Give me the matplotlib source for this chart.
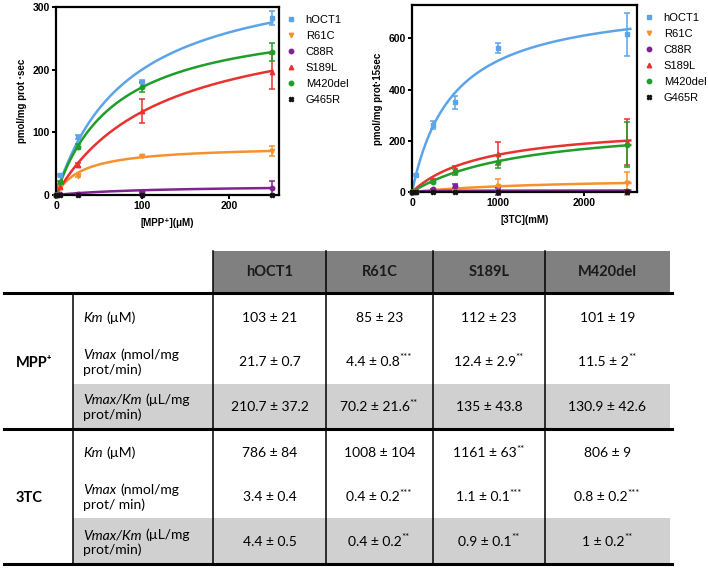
import numpy as np
import matplotlib.pyplot as plt
from matplotlib.lines import Line2D
from matplotlib.patches import Rectangle

plt.rcParams['font.family'] = ['Liberation Sans', 'DejaVu Sans']

variants = ['hOCT1', 'R61C', 'C88R', 'S189L', 'M420del', 'G465R']
colors = ['#5ba4e8', '#f5922e', '#7e2390', '#e8322f', '#1f9e2a', '#111111']
markers = ['s', 'v', 'o', '^', 'o', 'X']

# MPP+ uptake (pmol/mg prot sec)
mpp_conc = [0, 5, 25, 100, 250]
mpp_hoct1 = [0, 32, 93, 181, 283]
mpp_hoct1_err = [0, 2, 3, 3, 11]
mpp_r61c = [0, 12, 31, 62, 70]
mpp_r61c_err = [0, 1, 2, 2, 8]
mpp_c88r = [0, 1, 2, 4, 11]
mpp_c88r_err = [0, 0, 1, 1, 11]
mpp_s189l = [0, 13, 48, 134, 197]
mpp_s189l_err = [0, 2, 3, 19, 28]
mpp_m420del = [0, 20, 77, 172, 228]
mpp_m420del_err = [0, 2, 4, 8, 14]
mpp_g465r = [0, 0, 0, 0, 0]
mpp_g465r_err = [0, 0, 0, 0, 0]
# Michaelis-Menten fit parameters
mpp_vmax_fit = [367, 79, 16, 294, 291, 0]
mpp_km_fit = [83, 31, 110, 121, 69, 1]

# 3TC uptake (pmol/mg prot 15sec)
tc_conc = [0, 50, 250, 500, 1000, 2500]
tc_hoct1 = [0, 67, 262, 350, 561, 615]
tc_hoct1_err = [0, 5, 15, 25, 20, 85]
tc_r61c = [0, 2, 8, 12, 25, 35]
tc_r61c_err = [0, 1, 3, 5, 25, 45]
tc_c88r = [0, 1, 10, 22, 2, 3]
tc_c88r_err = [0, 1, 3, 8, 12, 3]
tc_s189l = [0, 6, 45, 88, 150, 195]
tc_s189l_err = [0, 2, 5, 15, 45, 90]
tc_m420del = [0, 5, 40, 78, 118, 185]
tc_m420del_err = [0, 2, 5, 10, 25, 88]
tc_g465r = [0, 0, 0, 0, 0, 0]
tc_g465r_err = [0, 0, 0, 0, 0, 0]
tc_vmax_fit = [756, 58, 6, 268, 278, 0]
tc_km_fit = [476, 1623, 150, 846, 1314, 1]

# kinetic parameter table
col_names = ['hOCT1', 'R61C', 'S189L', 'M420del']
km_mpp = ['103 ± 21', '85 ± 23', '112 ± 23', '101 ± 19']
vmax_mpp = ['21.7 ± 0.7', '4.4 ± 0.8***', '12.4 ± 2.9**', '11.5 ± 2**']
eff_mpp = ['210.7 ± 37.2', '70.2 ± 21.6**', '135 ± 43.8', '130.9 ± 42.6']
km_3tc = ['786 ± 84', '1008 ± 104', '1161 ± 63**', '806 ± 9']
vmax_3tc = ['3.4 ± 0.4', '0.4 ± 0.2***', '1.1 ± 0.1***', '0.8 ± 0.2***']
eff_3tc = ['4.4 ± 0.5', '0.4 ± 0.2**', '0.9 ± 0.1**', '1 ± 0.2**']

W, H = 708, 570
fig = plt.figure(figsize=(W / 100, H / 100), dpi=100)


def px_axes(l, t, r, b):
    return fig.add_axes([l / W, 1 - b / H, (r - l) / W, (b - t) / H])


def uptake_plot(ax, conc, ys, errs, vmax, km, xmax, ymax, xticks, yticks, xlabel, ylabel):
    xs = np.linspace(0, xmax * 0.97, 300)
    for i in range(len(variants)):
        fit = vmax[i] * xs / (km[i] + xs)
        ax.plot(xs, fit, color=colors[i], lw=1.8, zorder=2 + i * 0.1)
        ax.errorbar(conc, ys[i], yerr=errs[i], fmt=markers[i], color=colors[i],
                    ms=3.2, elinewidth=1.1, capsize=2.5, capthick=1.1, zorder=3,
                    clip_on=False)
    ax.set_xlim(0, xmax)
    ax.set_ylim(0, ymax)
    ax.set_xticks(xticks)
    ax.set_yticks(yticks)
    for s in ax.spines.values():
        s.set_linewidth(1.6)
    ax.tick_params(direction='out', length=3, width=1.4, labelsize=7.5, pad=1.5)
    for lab in ax.get_xticklabels() + ax.get_yticklabels():
        lab.set_fontweight('bold')
    ax.set_xlabel(xlabel, fontsize=7, fontweight='bold', labelpad=5)
    ax.set_ylabel(ylabel, fontsize=7, fontweight='bold', labelpad=4)
    handles = [Line2D([], [], ls='none', marker=markers[i], color=colors[i], ms=3.2)
               for i in range(len(variants))]
    ax.legend(handles, variants, loc='upper left', bbox_to_anchor=(1.0, 1.0),
              frameon=False, fontsize=8, handlelength=0.8, handletextpad=0.9,
              labelspacing=0.55, borderaxespad=0.3)


ax1 = px_axes(56, 7, 279, 195)
uptake_plot(ax1, mpp_conc,
            [mpp_hoct1, mpp_r61c, mpp_c88r, mpp_s189l, mpp_m420del, mpp_g465r],
            [mpp_hoct1_err, mpp_r61c_err, mpp_c88r_err, mpp_s189l_err, mpp_m420del_err, mpp_g465r_err],
            mpp_vmax_fit, mpp_km_fit, 258, 300, [0, 100, 200], [0, 100, 200, 300],
            '[MPP⁺](μM)', 'pmol/mg prot ·sec')

ax2 = px_axes(412, 5, 637, 192)
uptake_plot(ax2, tc_conc,
            [tc_hoct1, tc_r61c, tc_c88r, tc_s189l, tc_m420del, tc_g465r],
            [tc_hoct1_err, tc_r61c_err, tc_c88r_err, tc_s189l_err, tc_m420del_err, tc_g465r_err],
            tc_vmax_fit, tc_km_fit, 2620, 730, [0, 1000, 2000], [0, 200, 400, 600],
            '[3TC](mM)', 'pmol/mg prot·15sec')

# ---- table, drawn in pixel coordinates
tab = fig.add_axes([0, 0, 1, 1])
tab.set_xlim(0, W)
tab.set_ylim(H, 0)
tab.axis('off')
r = fig.canvas.get_renderer()

col_edges = [213, 326, 433, 545, 670]
col_mid = [(a + b) / 2 for a, b in zip(col_edges[:-1], col_edges[1:])]
tfont = ['Lato', 'DejaVu Sans']

tab.add_patch(Rectangle((213, 251), 670 - 213, 42, color='#808080', lw=0))
tab.add_patch(Rectangle((73, 384), 670 - 73, 45, color='#d0d0d0', lw=0))
tab.add_patch(Rectangle((73, 518), 670 - 73, 46, color='#d0d0d0', lw=0))
for x in col_edges[:-1]:
    tab.plot([x, x], [251, 564], color='black', lw=1.1)
tab.plot([73, 73], [293, 564], color='black', lw=1.1)
for y in [293, 429, 564]:
    tab.plot([4, 672], [y, y], color='black', lw=2.2)

for x, name in zip(col_mid, col_names):
    tab.text(x, 272, name, ha='center', va='center', fontsize=10.5,
             family=tfont, fontweight='bold', color='#1a1a1a')


def value(x, y, s):
    stars = s[len(s.rstrip('*')):]
    main = s.rstrip('*')
    t1 = tab.text(x, y, main, ha='left', va='center', fontsize=10, family=tfont)
    w1 = t1.get_window_extent(r).width
    w2 = 0
    if stars:
        t2 = tab.text(x, y - 4, stars, ha='left', va='center', fontsize=7, family=tfont)
        w2 = t2.get_window_extent(r).width
    t1.set_x(x - (w1 + w2) / 2)
    if stars:
        t2.set_x(x - (w1 + w2) / 2 + w1 - 0.5)


def label(x, y, parts):
    for s, st in parts:
        t = tab.text(x, y, s, ha='left', va='center', fontsize=10, family=tfont, style=st)
        x += t.get_window_extent(r).width + 4


sections = [('MPP⁺', 362, [km_mpp, vmax_mpp, eff_mpp]),
            ('3TC', 497, [km_3tc, vmax_3tc, eff_3tc])]
for name, yc, rows in sections:
    tab.text(16, yc + 1, name, ha='left', va='center', fontsize=10.5,
             family=tfont, fontweight='bold')
    ys = [yc - 44, yc, yc + 45]
    label(83, ys[0], [('Km', 'italic'), ('(µM)', 'normal')])
    label(83, ys[1] - 7, [('Vmax', 'italic'), ('(nmol/mg', 'normal')])
    label(83, ys[1] + 8, [('prot/min)' if name != '3TC' else 'prot/ min)', 'normal')])
    label(83, ys[2] - 7, [('Vmax/Km', 'italic'), ('(µL/mg', 'normal')])
    label(83, ys[2] + 8, [('prot/min)', 'normal')])
    for row, y in zip(rows, ys):
        for x, s in zip(col_mid, row):
            value(x, y, s)

fig.savefig('out.png', dpi=100)
